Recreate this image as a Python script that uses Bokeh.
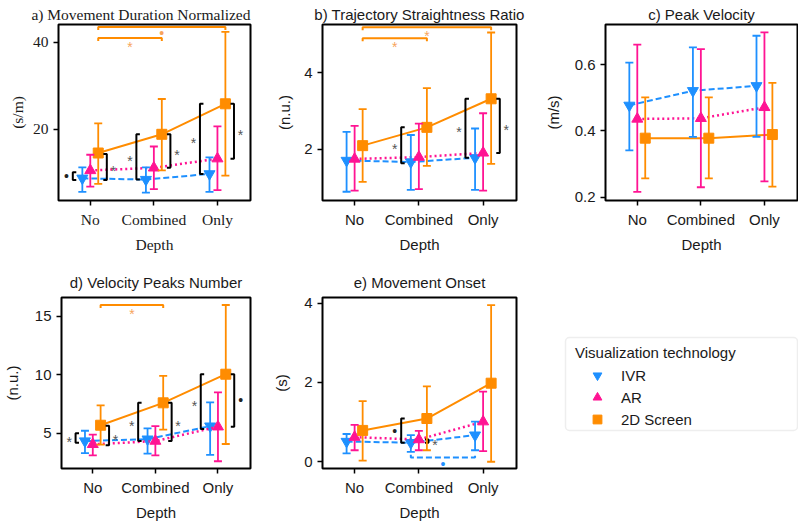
from bokeh.plotting import figure
from bokeh.models import (ColumnDataSource, Whisker, TeeHead, FixedTicker, SingleIntervalTicker,
                          Legend, LegendItem, Range1d, BoxAnnotation)
from bokeh.layouts import column, row
from bokeh.embed import file_html
from bokeh.resources import INLINE
from bokeh.core.properties import value

DEPTHS = ["No", "Combined", "Only"]
SERIES = ["IVR", "AR", "2D Screen"]

# a) Movement Duration Normalized (s/m)
A_IVR_MEAN = [8.8, 8.5, 9.8]
A_IVR_LOW = [5.7, 5.5, 5.7]
A_IVR_HIGH = [11.3, 11.3, 13.6]
A_AR_MEAN = [10.6, 11.2, 13.3]
A_AR_LOW = [6.9, 6.3, 6.1]
A_AR_HIGH = [14.2, 16.1, 20.7]
A_2D_MEAN = [14.6, 18.9, 25.9]
A_2D_LOW = [7.5, 10.6, 9.4]
A_2D_HIGH = [21.4, 27.0, 42.4]

# b) Trajectory Straightness Ratio (n.u.)
B_IVR_MEAN = [1.70, 1.66, 1.77]
B_IVR_LOW = [0.88, 0.93, 0.93]
B_IVR_HIGH = [2.45, 2.37, 2.54]
B_AR_MEAN = [1.74, 1.79, 1.90]
B_AR_LOW = [0.91, 0.95, 0.91]
B_AR_HIGH = [2.61, 2.67, 2.94]
B_2D_MEAN = [2.09, 2.57, 3.32]
B_2D_LOW = [1.14, 1.56, 1.61]
B_2D_HIGH = [3.05, 3.60, 5.06]

# c) Peak Velocity (m/s)
C_IVR_MEAN = [0.477, 0.521, 0.536]
C_IVR_LOW = [0.341, 0.382, 0.382]
C_IVR_HIGH = [0.606, 0.652, 0.687]
C_AR_MEAN = [0.436, 0.438, 0.471]
C_AR_LOW = [0.216, 0.230, 0.248]
C_AR_HIGH = [0.660, 0.647, 0.697]
C_2D_MEAN = [0.378, 0.378, 0.389]
C_2D_LOW = [0.257, 0.257, 0.232]
C_2D_HIGH = [0.501, 0.501, 0.545]

# d) Velocity Peaks Number (n.u.)
D_IVR_MEAN = [4.34, 4.50, 5.61]
D_IVR_LOW = [3.31, 3.26, 3.17]
D_IVR_HIGH = [5.22, 5.42, 7.63]
D_AR_MEAN = [4.06, 4.34, 5.56]
D_AR_LOW = [3.12, 3.12, 2.62]
D_AR_HIGH = [4.89, 5.61, 8.49]
D_2D_MEAN = [5.69, 7.60, 10.04]
D_2D_LOW = [4.03, 5.31, 4.09]
D_2D_HIGH = [7.38, 9.90, 15.94]

# e) Movement Onset (s)
E_IVR_MEAN = [0.51, 0.48, 0.67]
E_IVR_LOW = [0.21, 0.25, 0.29]
E_IVR_HIGH = [0.70, 0.67, 1.01]
E_AR_MEAN = [0.62, 0.56, 1.01]
E_AR_LOW = [0.29, 0.29, 0.27]
E_AR_HIGH = [0.93, 0.78, 1.77]
E_2D_MEAN = [0.79, 1.09, 1.98]
E_2D_LOW = [0.03, 0.29, 0.00]
E_2D_HIGH = [1.53, 1.90, 3.95]

# significance brackets between technologies (within a depth)
A_VB_DEPTH = [0, 0, 1, 1, 2, 2]
A_VB_SIDE = ["L", "R", "L", "R", "L", "R"]
A_VB_LOW = [8.4, 8.4, 8.5, 11.2, 9.8, 13.3]
A_VB_HIGH = [10.2, 14.4, 18.9, 18.9, 25.9, 25.9]
A_VB_MARK = ["•", "*", "*", "*", "*", "*"]
B_VB_DEPTH = [1, 2, 2]
B_VB_SIDE = ["L", "L", "R"]
B_VB_LOW = [1.63, 1.77, 1.90]
B_VB_HIGH = [2.57, 3.32, 3.32]
B_VB_MARK = ["*", "*", "*"]
D_VB_DEPTH = [0, 0, 1, 1, 2, 2]
D_VB_SIDE = ["L", "R", "L", "R", "L", "R"]
D_VB_LOW = [4.2, 3.98, 4.34, 4.34, 5.36, 5.56]
D_VB_HIGH = [5.0, 5.64, 7.6, 7.6, 10.04, 10.04]
D_VB_MARK = ["*", "*", "*", "*", "*", "•"]
E_VB_DEPTH = [1, 1]
E_VB_SIDE = ["L", "r"]
E_VB_LOW = [0.48, 0.48]
E_VB_HIGH = [1.09, 0.56]
E_VB_MARK = ["•", "*"]

# significance brackets between depths (within a technology)
A_HB_FROM = [0, 0]
A_HB_TO = [1, 2]
A_HB_SERIES = ["2D", "2D"]
A_HB_Y = [41.0, 43.5]
A_HB_MARK = ["*", "•"]
B_HB_FROM = [0, 0]
B_HB_TO = [1, 2]
B_HB_SERIES = ["2D", "2D"]
B_HB_Y = [4.91, 5.20]
B_HB_MARK = ["*", "*"]
D_HB_FROM = [0]
D_HB_TO = [1]
D_HB_SERIES = ["2D"]
D_HB_Y = [15.94]
D_HB_MARK = ["*"]
E_HB_FROM = [1]
E_HB_TO = [2]
E_HB_SERIES = ["IVR"]
E_HB_Y = [0.105]
E_HB_MARK = ["•"]

COLORS = {"IVR": "#1E90FF", "AR": "#FF1493", "2D": "#FF8C00"}
MARK_COLORS = {"IVR": "#1E90FF", "AR": "#FF1493", "2D": "#F7A45C"}
MARKERS = {"IVR": "inverted_triangle", "AR": "triangle", "2D": "square"}
MSIZE = {"IVR": 11, "AR": 11, "2D": 10}
DASH = {"IVR": "6 3", "AR": "2 3", "2D": "solid"}
LWIDTH = {"IVR": 2, "AR": 2.5, "2D": 2}
DODGE = {"IVR": -0.125, "AR": 0.0, "2D": 0.125}
SIDE_OFF = {"L": -0.275, "R": 0.26, "r": 0.15}
SIDE_DIR = {"L": 1, "R": -1, "r": -1}

SANS = "Liberation Sans"
SERIF = "Liberation Serif"
TXT = "#1a1a1a"


def make_panel(title, ylabel, yr, interval, series, vb, hb, *, font, fs, w, h, bl, br, bt, bb,
               lab_standoff, tstandoff, title_align="center", title_valign="bottom"):
    p = figure(width=w, height=h, x_range=Range1d(-0.5, 2.52), y_range=Range1d(*yr),
               output_backend="svg", toolbar_location=None,
               min_border_left=bl, min_border_right=br, min_border_top=bt, min_border_bottom=bb)
    p.title.text = title
    p.title.text_font = font
    p.title.text_font_size = fs
    p.title.text_font_style = "normal"
    p.title.text_color = TXT
    p.title.align = title_align
    p.title.vertical_align = title_valign
    p.title.standoff = tstandoff
    p.outline_line_color = "black"
    p.outline_line_width = 2
    p.outline_line_alpha = 1
    p.grid.visible = False
    p.background_fill_color = "white"
    p.border_fill_color = "white"

    p.xaxis.ticker = FixedTicker(ticks=[0, 1, 2])
    p.xaxis.major_label_overrides = {i: d for i, d in enumerate(DEPTHS)}
    p.xaxis.axis_label = "Depth"
    p.xaxis.major_label_standoff = 5
    p.xaxis.axis_label_standoff = 5
    p.yaxis.ticker = SingleIntervalTicker(interval=interval, num_minor_ticks=0)
    p.yaxis.axis_label = ylabel
    p.yaxis.axis_label_standoff = lab_standoff
    p.yaxis.major_label_standoff = 5
    for ax in (p.xaxis, p.yaxis):
        ax.axis_line_color = None
        ax.major_tick_in = 0
        ax.major_tick_out = 5
        ax.major_tick_line_width = 1.5
        ax.major_tick_line_color = "black"
        ax.minor_tick_line_color = None
        ax.major_label_text_font = font
        ax.major_label_text_font_size = fs
        ax.major_label_text_color = TXT
        ax.axis_label_text_font = font
        ax.axis_label_text_font_size = fs
        ax.axis_label_text_font_style = "normal"
        ax.axis_label_text_color = TXT

    means = {}
    for key, mean, low, high in series:
        c = COLORS[key]
        xs = [i + DODGE[key] for i in range(len(DEPTHS))]
        means[key] = mean
        src = ColumnDataSource(dict(x=xs, mean=mean, low=low, high=high))
        p.line("x", "mean", source=src, line_color=c, line_width=LWIDTH[key],
               line_dash=DASH[key])
        p.add_layout(Whisker(base="x", upper="high", lower="low", source=src, dimension="height",
                             line_color=c, line_width=1.8, level="glyph",
                             upper_head=TeeHead(size=8, line_color=c, line_width=1.8),
                             lower_head=TeeHead(size=8, line_color=c, line_width=1.8)))
        p.scatter("x", "mean", source=src, marker=MARKERS[key], size=MSIZE[key],
                  fill_color=c, line_color=c)

    ypp = (yr[1] - yr[0]) / 176.0
    xpp = 3.02 / 193.0
    if vb:
        depth, side, lo, hi, mark = vb
        bxs, bys, tx, ty, tt, toff = [], [], [], [], [], []
        for d, s, l, u, m in zip(depth, side, lo, hi, mark):
            xb = d + SIDE_OFF[s]
            arm = 3.5 * xpp * SIDE_DIR[s]
            bxs.append([xb + arm, xb, xb, xb + arm])
            bys.append([l, l, u, u])
            tx.append(xb - SIDE_DIR[s] * 6.5 * xpp)
            ty.append((l + u) / 2)
            tt.append(m)
            toff.append(4 if m == "*" else 0)
        p.multi_line(bxs, bys, line_color="black", line_width=2)
        p.text(x=tx, y=ty, text=tt, y_offset=toff, text_font=value(SANS), text_font_size="14px",
               text_color=["#555555" if m == "*" else "#222222" for m in tt],
               text_align="center", text_baseline="middle")
    if hb:
        fr, to, ser_, yv, mark = hb
        for f, t, s, y, m in zip(fr, to, ser_, yv, mark):
            x1, x2 = f + DODGE[s], t + DODGE[s]
            d = -1 if y > means[s][f] else 1
            tk = 3 * ypp * d
            p.line([x1, x1, x2, x2], [y + tk, y, y, y + tk], line_color=COLORS[s],
                   line_width=2, line_dash=DASH[s] if s == "IVR" else "solid")
            p.text(x=[(x1 + x2) / 2], y=[y], text=[m], y_offset=[1 if m == "*" else 6],
                   text_font=value(SANS), text_font_size="14px", text_color=MARK_COLORS[s],
                   text_align="center", text_baseline="top" if m == "*" else "middle")
    return p


def ser(prefix):
    g = globals()
    return [(k, g[f"{prefix}_{k}_MEAN"], g[f"{prefix}_{k}_LOW"], g[f"{prefix}_{k}_HIGH"])
            for k in ("IVR", "AR", "2D")]


def vbr(prefix):
    g = globals()
    return (g[f"{prefix}_VB_DEPTH"], g[f"{prefix}_VB_SIDE"], g[f"{prefix}_VB_LOW"],
            g[f"{prefix}_VB_HIGH"], g[f"{prefix}_VB_MARK"])


def hbr(prefix):
    g = globals()
    return (g[f"{prefix}_HB_FROM"], g[f"{prefix}_HB_TO"], g[f"{prefix}_HB_SERIES"],
            g[f"{prefix}_HB_Y"], g[f"{prefix}_HB_MARK"])


pa = make_panel("a) Movement Duration Normalized", "(s/m)", (3.7, 44.1), 20, ser("A"), vbr("A"), hbr("A"),
                font=SERIF, fs="15.5px", w=270, h=258, bl=58, br=20, bt=24, bb=58,
                lab_standoff=4, tstandoff=0, title_align="right", title_valign="top")
pb = make_panel("b) Trajectory Straightness Ratio", "(n.u.)", (0.65, 5.27), 2, ser("B"), vbr("B"), hbr("B"),
                font=SANS, fs="15px", w=270, h=258, bl=52, br=24, bt=24, bb=58,
                lab_standoff=8, tstandoff=0, title_valign="top")
pc = make_panel("c) Peak Velocity", "(m/s)", (0.19, 0.721), 0.2, ser("C"), None, None,
                font=SANS, fs="15px", w=258, h=258, bl=65, br=1, bt=24, bb=58,
                lab_standoff=10, tstandoff=0, title_valign="top")
pd_ = make_panel("d) Velocity Peaks Number", "(n.u.)", (2.0, 16.58), 5, ser("D"), vbr("D"), hbr("D"),
                 font=SANS, fs="15px", w=270, h=265, bl=58, br=20, bt=39, bb=51,
                 lab_standoff=11, tstandoff=13)
pe = make_panel("e) Movement Onset", "(s)", (-0.17, 4.14), 2, ser("E"), vbr("E"), hbr("E"),
                font=SANS, fs="15px", w=270, h=265, bl=52, br=24, bt=39, bb=51,
                lab_standoff=11, tstandoff=13)

# legend panel: frame spans x 0..258 px and the 175 px tall frame of the second row
pl = figure(width=258, height=265, x_range=Range1d(0, 258), y_range=Range1d(0, 175),
            x_axis_type=None, y_axis_type=None, output_backend="svg", toolbar_location=None,
            min_border_left=0, min_border_right=0, min_border_top=39, min_border_bottom=51)
pl.outline_line_color = None
pl.grid.visible = False
pl.add_layout(BoxAnnotation(left=25, right=257, bottom=39, top=134, fill_color="white",
                            fill_alpha=1, line_color="#c8c8c8", line_width=1.5, border_radius=4))
items = []
nan = float("nan")
for key, name in zip(("IVR", "AR", "2D"), SERIES):
    r = pl.scatter(x=[nan], y=[nan], marker=MARKERS[key], size=10, fill_color=COLORS[key],
                   line_color=COLORS[key])
    items.append(LegendItem(label=name, renderers=[r]))
leg = Legend(items=items, location=(35, 38), title="Visualization technology",
             title_text_font=SANS, title_text_font_size="15px", title_text_font_style="normal",
             title_text_color=TXT, title_standoff=3,
             label_text_font=SANS, label_text_font_size="15px", label_text_color=TXT,
             glyph_width=44, glyph_height=22, label_height=22, label_standoff=2, spacing=0,
             padding=6, margin=0, border_line_color=None, background_fill_alpha=0)
pl.add_layout(leg)

layout = column(row(pa, pb, pc), row(pd_, pe, pl))
open("out.html", "w").write(file_html(layout, INLINE))
